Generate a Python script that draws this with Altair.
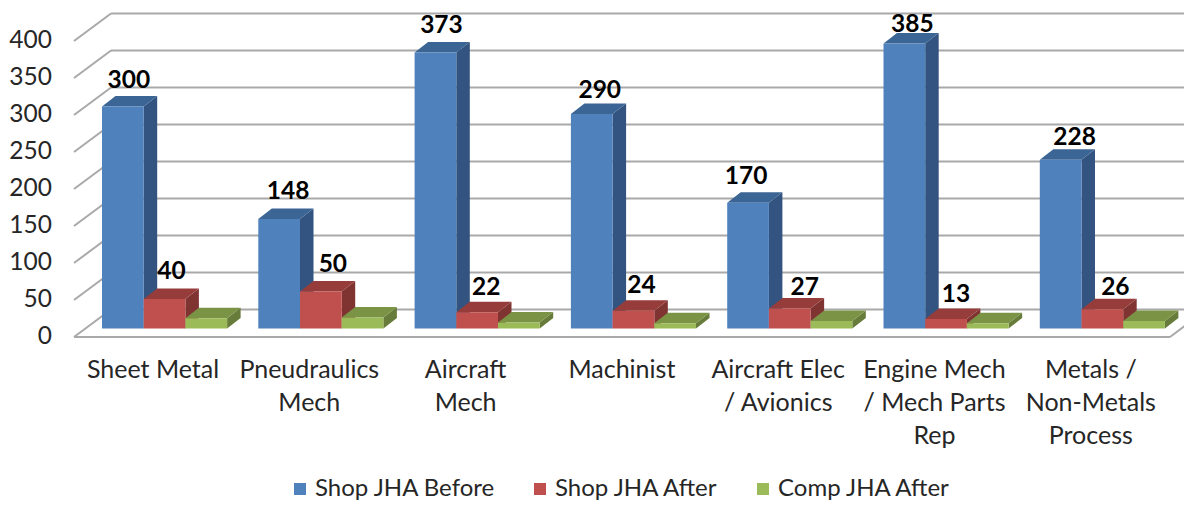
import altair as alt
import pandas as pd

categories = ["Sheet Metal", "Pneudraulics\nMech", "Aircraft\nMech", "Machinist",
              "Aircraft Elec\n/ Avionics", "Engine Mech\n/ Mech Parts\nRep",
              "Metals /\nNon-Metals\nProcess"]
series = ["Shop JHA Before", "Shop JHA After", "Comp JHA After"]
shop_before = [300, 148, 373, 290, 170, 385, 228]
shop_after = [40, 50, 22, 24, 27, 13, 26]
comp_after = [14, 15, 8, 7, 10, 7, 10]
y_ticks = [0, 50, 100, 150, 200, 250, 300, 350, 400]

front_colors = ["#4F81BD", "#C0504D", "#9BBB59"]
side_colors = ["#335480", "#7F3432", "#677C3A"]
top_colors = ["#3B6594", "#963D3B", "#7A9345"]

# manual label placement of the original chart, in pixels
before_nudge_x = [6, 9, 6, 8, -2, 8, 14]
before_nudge_y = [26, 27, 26.5, 23, 25.6, 19, 22]
after_nudge_x = [7, 12, 9, 8, 15, 10, 13]
after_nudge_y = [27, 26.5, 24, 25, 21, 24, 21]

# geometry: 1 category = PX_X px, 1 value unit = PX_Y px
PX_X, PX_Y = 156.3, 0.74
W, H = 1176, 494
XMIN = (8 - 102) / PX_X
XMAX = XMIN + W / PX_X
YMAX = (328.5 - 8) / PX_Y
YMIN = YMAX - H / PX_Y
BAR = 41.7 / PX_X
DX, DY = 13.5 / PX_X, 10.5 / PX_Y           # bar depth
WX, WY = 37 / PX_X, 27.5 / PX_Y              # chart wall depth
FRONT = -8.5 / PX_Y                          # front floor edge relative to bar base
RIGHT = (1170 - 102) / PX_X                  # right end of the floor's front edge
LEFT = (74 - 102) / PX_X

xs = alt.Scale(domain=[XMIN, XMAX], nice=False, zero=False)
ys = alt.Scale(domain=[YMIN, YMAX], nice=False, zero=False)
X = lambda f="x": alt.X(f"{f}:Q", scale=xs, axis=None)
Y = lambda f="y": alt.Y(f"{f}:Q", scale=ys, axis=None)
X2 = lambda f="x2": alt.X2(f"{f}:Q")
Y2 = lambda f="y2": alt.Y2(f"{f}:Q")

GRID = "#A9A9A9"
LATO = "Lato"

grid_rows = []
for t in y_ticks:
    grid_rows.append(dict(x=LEFT + WX, x2=XMAX + 0.2, y=t + FRONT + WY, y2=t + FRONT + WY))
    grid_rows.append(dict(x=LEFT, x2=LEFT + WX, y=t + FRONT, y2=t + FRONT + WY))
grid_rows.append(dict(x=LEFT, x2=RIGHT, y=FRONT, y2=FRONT))
grid_rows.append(dict(x=RIGHT, x2=RIGHT + WX, y=FRONT, y2=FRONT + WY))
grid = alt.Chart(pd.DataFrame(grid_rows)).mark_rule(stroke=GRID, strokeWidth=2, clip=True).encode(
    x=X(), x2=X2(), y=Y(), y2=Y2())

values = [shop_before, shop_after, comp_after]
layers = [grid]
for s, name in enumerate(series):
    side, top, front = [], [], []
    for i, v in enumerate(values[s]):
        x0 = i + s * BAR
        x1 = x0 + BAR
        front.append(dict(x=x0, x2=x1, y=v, y2=0, series=name))
        for t in (0, 1):
            side.append(dict(c=i, x=x1 + t * DX, y=v + t * DY, y2=t * DY))
            top.append(dict(c=i, x=x0 + t * DX, x2=x1 + t * DX, y=v + t * DY))
    layers.append(alt.Chart(pd.DataFrame(side)).mark_area(color=side_colors[s], opacity=1).encode(
        x=X(), y=Y(), y2=Y2(), detail="c:N"))
    layers.append(alt.Chart(pd.DataFrame(top)).mark_area(color=top_colors[s], orient="horizontal", opacity=1).encode(
        x=X(), x2=X2(), y=Y(), detail="c:N"))
    layers.append(alt.Chart(pd.DataFrame(front)).mark_rect(opacity=1).encode(
        x=X(), x2=X2(), y=Y(), y2=Y2(),
        color=alt.Color("series:N", scale=alt.Scale(domain=series, range=front_colors), sort=series,
                        legend=alt.Legend(title=None, orient="none", legendX=280, legendY=469,
                                          direction="horizontal", columns=3, symbolType="square",
                                          symbolSize=144, symbolStrokeWidth=0, labelFont=LATO, labelFontSize=24,
                                          labelColor="#262626", labelLimit=300, labelOffset=3,
                                          columnPadding=32, symbolOpacity=1))))

# data labels
lab = []
for i in range(len(categories)):
    lab.append(dict(x=i + BAR / 2 + before_nudge_x[i] / PX_X, y=shop_before[i] + before_nudge_y[i] / PX_Y, t=str(shop_before[i])))
    lab.append(dict(x=i + 1.5 * BAR + after_nudge_x[i] / PX_X, y=shop_after[i] + after_nudge_y[i] / PX_Y, t=str(shop_after[i])))
layers.append(alt.Chart(pd.DataFrame(lab)).mark_text(font=LATO, fontWeight="bold", fontSize=24.5, color="#000000",
                                                     baseline="middle", align="center").encode(x=X(), y=Y(), text="t:N"))

# value labels
tick_df = pd.DataFrame(dict(x=[LEFT - 22 / PX_X] * len(y_ticks), y=[t + FRONT for t in y_ticks], t=[str(t) for t in y_ticks]))
layers.append(alt.Chart(tick_df).mark_text(font=LATO, fontSize=24.5, color="#262626", align="right", baseline="middle").encode(
    x=X(), y=Y(), text="t:N"))

# category labels
cat_df = pd.DataFrame(dict(x=[i + 51 / PX_X for i in range(len(categories))],
                           y=[-41.5 / PX_Y] * len(categories), t=categories))
layers.append(alt.Chart(cat_df).mark_text(font=LATO, fontSize=25, color="#262626", align="center", baseline="middle",
                                          lineBreak="\n", lineHeight=33).encode(x=X(), y=Y(), text="t:N"))

chart = alt.layer(*layers).properties(
    width=W, height=H, padding=0, autosize=alt.AutoSizeParams(type="none")
).configure_view(stroke=None)

chart.save("out.html", embed_options={"renderer": "svg", "actions": False})
